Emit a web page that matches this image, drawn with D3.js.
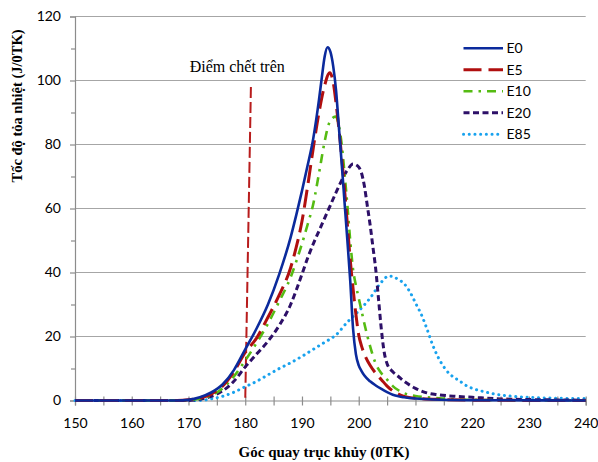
<!DOCTYPE html>
<html>
<head>
<meta charset="utf-8">
<script src="https://cdn.jsdelivr.net/npm/d3@7/dist/d3.min.js"></script>
<style>
  html, body { margin: 0; padding: 0; background: #fff; }
  svg { display: block; }
</style>
</head>
<body>
<svg id="chart" width="598" height="462"></svg>
<script>
// Heat release rate vs crank angle for different ethanol blends
const xTicks = [150, 160, 170, 180, 190, 200, 210, 220, 230, 240];
const yTicks = [0, 20, 40, 60, 80, 100, 120];

const E0 = [
  [150,0],[168,0],[170,0.2],[172,1],[174,2.5],[176,5],[178,9.5],[180,16],[182,22.5],[184,30],
  [186,39.5],[188,51],[189,58],[190,65.5],[191,73.5],[192,82],[193,94],[193.5,101],
  [194,107.5],[194.5,110.4],[195,109],[195.5,104.5],[196,97],[196.5,85.5],[197,74],[197.5,62],
  [198,50],[198.5,37.5],[199,22.5],[199.5,14.5],[200,11],[200.5,9.2],[201,7.8],[202,6],[203,4.7],
  [204,3.6],[205,2.6],[206,1.8],[207,1.3],[208,1],[210,0.6],[213,0.3],[220,0.1],[240,0]
];
const E5 = [
  [150,0],[168,0],[170,0.2],[172,0.8],[174,2],[176,4.5],[178,9],[180,15],[182,19.5],[184,26],
  [186,33],[188,41.5],[189,48],[190,56],[191,67],[192,79],[193,90],[194,98.5],[194.9,102.4],
  [195.5,99.5],[196,93],[196.5,85],[197,76],[197.5,66],[198,55],[198.5,44],[199,35],[199.5,27],
  [200,20.5],[200.5,17],[201,14.5],[202,11],[203,8.5],[204,6.5],[205,4.5],[206,3],[207,2],
  [208,1.3],[210,0.7],[215,0.3],[220,0.1],[240,0]
];
const E10 = [
  [150,0],[169,0],[171,0.3],[173,1],[175,2.5],[177,5.5],[178,7.5],[180,12.5],[182,18],[184,24],
  [186,31],[188,38.5],[189,43.5],[190,49],[191,55],[192,61.5],[193,71],[194,81],[194.5,85],
  [195,87.5],[195.9,88.7],[196.5,86],[197,80],[197.5,71],[198,61],[198.5,50],[199,41],[199.5,36],
  [200,32],[200.5,28],[201,24],[202,17],[203,11.5],[204,8.5],[205,6.5],[206,4.5],[207,3.2],
  [208,2.3],[210,1.4],[212,1],[215,0.6],[220,0.2],[240,0]
];
const E20 = [
  [150,0],[170,0],[172,0.4],[174,1.3],[176,3],[178,6],[180,10.5],[182,14.5],[184,18.5],[186,23.5],
  [188,30],[189,34.5],[190,39.5],[191,44.5],[192,49],[193,53],[194,57],[195,61],[196,65],
  [197,68.8],[198,72],[199,73.9],[199.8,73.3],[200.5,71],[201,67],[201.5,61],[202,55],[202.5,48],
  [203,41],[203.5,31.5],[204,22],[204.5,15],[205,11.5],[206,9],[207,7.5],[208,6],[209,4.8],
  [210,3.8],[212,2.4],[214,1.8],[217,1.3],[220,1],[225,0.5],[230,0.3],[240,0.1]
];
const E85 = [
  [150,0],[172,0],[174,0.5],[176,1.3],[178,2.6],[180,4.3],[182,6],[184,8],[186,10],[188,11.8],
  [190,13.8],[192,16],[194,18.2],[196,20.5],[198,24.5],[200,28],[202,32],[204,37],[205.3,38.9],
  [206,38.7],[207,37.8],[208,36.5],[209,34],[210,30.5],[211,27],[212,22.5],[213,17.5],[214,13.5],
  [215,10.5],[216,8.3],[217,7],[218,5.8],[219,4.6],[220,3.8],[222,2.8],[224,2],[226,1.5],
  [230,1],[235,0.7],[240,0.6]
];
// Top dead centre marker
const tdcLine = [[181, 98], [180, 0]];

const seriesNames = ["E0", "E5", "E10", "E20", "E85"];
const seriesData = [E0, E5, E10, E20, E85];
const seriesStyle = [
  { color: "#0b2a9c", width: 2.6, dash: null, cap: "butt" },
  { color: "#b00f0f", width: 3, dash: "18,7", cap: "butt" },
  { color: "#55bb12", width: 2.6, dash: "9,6,2.5,6", cap: "butt" },
  { color: "#2d1068", width: 3, dash: "6,3.5", cap: "butt" },
  { color: "#18a2ee", width: 3, dash: "0.1,5.6", cap: "round" }
];

const svg = d3.select("#chart");
const m = { left: 75, right: 585.7, top: 16.5, bottom: 400.5 };

const x = d3.scaleLinear().domain([150, 240]).range([m.left, m.right]);
const y = d3.scaleLinear().domain([0, 120]).range([m.bottom, m.top]);

svg.append("rect").attr("width", 598).attr("height", 462).attr("fill", "#fff");

// Horizontal gridlines
svg.append("g").selectAll("line").data(yTicks.filter(d => d > 0)).join("line")
  .attr("x1", m.left).attr("x2", m.right)
  .attr("y1", d => y(d)).attr("y2", d => y(d))
  .attr("stroke", "#a6a6a6").attr("stroke-width", 1.2);

// Y axis
const yAxis = d3.axisLeft(y).tickValues(d3.range(0, 121, 10)).tickSize(5)
  .tickFormat(d => yTicks.includes(d) ? d : "");
const gy = svg.append("g").attr("transform", `translate(${m.left},0)`).call(yAxis);
gy.select(".domain").attr("stroke", "#8c8c8c").attr("stroke-width", 1.2);
gy.selectAll(".tick line").attr("stroke", "#8c8c8c").attr("stroke-width", 1.2)
  .attr("x2", d => yTicks.includes(d) ? -5 : -4);
gy.selectAll(".tick text").attr("x", -14)
  .style("font-family", "Lato, 'Open Sans', sans-serif").style("font-size", "14px").attr("fill", "#000");

// X axis
const xAxis = d3.axisBottom(x).tickValues(d3.range(150, 241, 5)).tickSize(5)
  .tickFormat(d => xTicks.includes(d) ? d : "");
const gx = svg.append("g").attr("transform", `translate(0,${m.bottom})`).call(xAxis);
gx.select(".domain").attr("stroke", "#8c8c8c").attr("stroke-width", 1.2);
gx.selectAll(".tick line").attr("stroke", "#8c8c8c").attr("stroke-width", 1.2)
  .attr("y1", -4).attr("y2", 5);
gx.selectAll(".tick text").attr("y", 18)
  .style("font-family", "Lato, 'Open Sans', sans-serif").style("font-size", "14px").attr("fill", "#000");

// Top dead centre marker and its label
svg.append("path").datum(tdcLine)
  .attr("d", d3.line().x(d => x(d[0])).y(d => y(d[1])))
  .attr("fill", "none").attr("stroke", "#b81c1c").attr("stroke-width", 2)
  .attr("stroke-dasharray", "11,4");
svg.append("text").attr("x", x(tdcLine[1][0]) - 8).attr("y", 72).attr("text-anchor", "middle")
  .style("font-family", "'Liberation Serif', 'Times New Roman', serif").style("font-size", "16px")
  .text("Điểm chết trên");

// Series lines
const line = d3.line().x(d => x(d[0])).y(d => y(d[1])).curve(d3.curveMonotoneX);
const order = [4, 3, 2, 1, 0];
order.forEach(i => {
  const s = seriesStyle[i];
  svg.append("path").datum(seriesData[i])
    .attr("d", line)
    .attr("fill", "none")
    .attr("stroke", s.color).attr("stroke-width", s.width)
    .attr("stroke-dasharray", s.dash).attr("stroke-linecap", s.cap)
    .attr("stroke-linejoin", "round");
});

// Legend
const lg = svg.append("g");
seriesNames.forEach((name, i) => {
  const s = seriesStyle[i];
  const ly = 48.3 + i * 21.5;
  lg.append("line").attr("x1", 463.5).attr("x2", 503).attr("y1", ly).attr("y2", ly)
    .attr("stroke", s.color).attr("stroke-width", s.width)
    .attr("stroke-dasharray", s.dash).attr("stroke-linecap", s.cap);
  lg.append("text").attr("x", 506.5).attr("y", ly).attr("dy", "0.35em")
    .style("font-family", "Lato, 'Open Sans', sans-serif").style("font-size", "14px")
    .text(name);
});

// Axis titles
svg.append("text").attr("x", 324).attr("y", 457).attr("text-anchor", "middle")
  .style("font-family", "'Liberation Serif', 'Times New Roman', serif")
  .style("font-size", "15px").style("font-weight", "bold")
  .text("Góc quay trục khủy (0TK)");
svg.append("text").attr("transform", "translate(22,106) rotate(-90)").attr("text-anchor", "middle")
  .style("font-family", "'Liberation Serif', 'Times New Roman', serif")
  .style("font-size", "14.5px").style("font-weight", "bold")
  .text("Tốc độ tỏa nhiệt (J/0TK)");
</script>
</body>
</html>
